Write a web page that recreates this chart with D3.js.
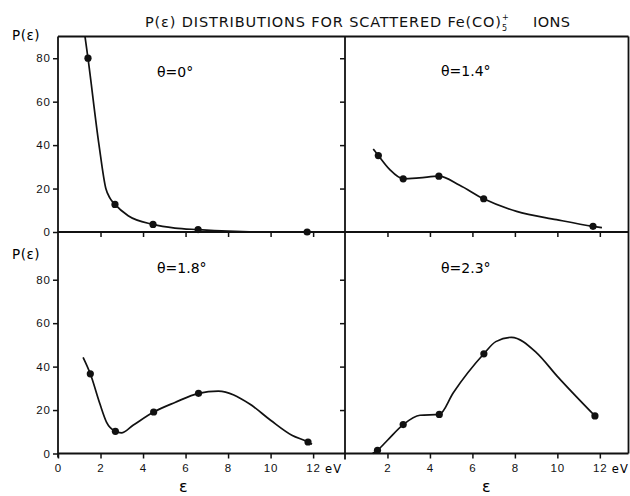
<!DOCTYPE html>
<html>
<head>
<meta charset="utf-8">
<script src="https://cdn.jsdelivr.net/npm/d3@7"></script>
<style>
  body { margin: 0; background: #fff; }
  svg { font-family: "DejaVu Sans", sans-serif; }
  .tick text { font-size: 11.5px; letter-spacing: 1px; fill: #111; }
  .tick line { stroke: #111; stroke-width: 1.5; }
</style>
</head>
<body>
<div id="chart"></div>
<script>
// energy axis (eV) and P(eps) axis ticks
const energyTicks = [0, 2, 4, 6, 8, 10, 12];
const probTicks = [0, 20, 40, 60, 80];
const panelAngles = ["θ=0°", "θ=1.4°", "θ=1.8°", "θ=2.3°"];

// measured points [eps, P]
const theta0Points = [[1.41, 80], [2.68, 12.7], [4.47, 3.5], [6.59, 1.1], [11.72, 0]];
const theta14Points = [[1.57, 35.2], [2.74, 24.5], [4.42, 25.7], [6.53, 15.3], [11.68, 2.6]];
const theta18Points = [[1.52, 36.7], [2.7, 10.2], [4.5, 19.1], [6.61, 27.7], [11.76, 5.3]];
const theta23Points = [[1.53, 1.5], [2.74, 13.3], [4.44, 18.0], [6.54, 45.9], [11.77, 17.3]];

// hand drawn curves
const theta0Curve = [[1.27, 90], [1.41, 80], [1.93, 40], [2.25, 20], [2.45, 15.5], [2.68, 12.7],
  [3.3, 7.5], [4.47, 3.5], [5.5, 1.8], [6.59, 1.1], [8, 0.4], [9, 0.1]];
const theta14Curve = [[1.33, 38.2], [1.57, 35.2], [2.1, 28.8], [2.74, 24.5], [3.5, 24.9], [4.42, 25.7],
  [5.4, 21.5], [6.53, 15.3], [8.08, 9.5], [9.96, 5.7], [11.68, 2.6], [12.1, 2.0]];
const theta18Curve = [[1.18, 44.3], [1.52, 36.7], [1.97, 22.9], [2.28, 14.5], [2.7, 10.2], [2.98, 9.5],
  [3.53, 13], [4.5, 19.1], [5.5, 23.5], [6.61, 27.7], [7.54, 28.7], [9, 22.9],
  [10, 15.3], [11, 8.4], [11.76, 5.3], [11.95, 4.3]];
const theta23Curve = [[1.3, 0], [1.53, 1.5], [2.0, 6.1], [2.74, 13.3], [3.53, 17.6], [4.44, 18.0],
  [5.1, 28], [6.54, 45.9], [7.1, 51.5], [7.84, 53.5], [9.0, 46.6], [10.0, 35.5], [11.77, 17.3]];

const width = 630;
const height = 496;

const svg = d3.select("#chart").append("svg")
  .attr("width", width)
  .attr("height", height);

const frameLeft = 58, frameMid = 345, frameRight = 628.5, frameTop = 36.5;
const zeroTop = 232, zeroBottom = 453.5;

const xLeft = d3.scaleLinear().domain([0, 13.5]).range([frameLeft, frameMid]);
const xRight = d3.scaleLinear().domain([0, 13.35]).range([frameMid, frameRight]);
const yTop = d3.scaleLinear().domain([0, 90]).range([zeroTop, frameTop]);
const yBottom = d3.scaleLinear().domain([0, 90]).range([zeroBottom, zeroBottom - (zeroTop - frameTop)]);

const panels = [
  { label: panelAngles[0], points: theta0Points, curve: theta0Curve, x: xLeft, y: yTop, lx: 157, ly: 77, isLeft: true, isBottom: false },
  { label: panelAngles[1], points: theta14Points, curve: theta14Curve, x: xRight, y: yTop, lx: 441, ly: 76, isLeft: false, isBottom: false },
  { label: panelAngles[2], points: theta18Points, curve: theta18Curve, x: xLeft, y: yBottom, lx: 157, ly: 273, isLeft: true, isBottom: true },
  { label: panelAngles[3], points: theta23Points, curve: theta23Curve, x: xRight, y: yBottom, lx: 441, ly: 273, isLeft: false, isBottom: true },
];

// frame
const frame = svg.append("g").style("stroke", "#111").style("stroke-width", 1.8);
frame.append("line").attr("x1", frameLeft).attr("x2", frameRight).attr("y1", frameTop).attr("y2", frameTop);
frame.append("line").attr("x1", frameLeft).attr("x2", frameLeft).attr("y1", frameTop).attr("y2", zeroBottom + 4);
frame.append("line").attr("x1", frameMid).attr("x2", frameMid).attr("y1", frameTop).attr("y2", zeroBottom + 6);
frame.append("line").attr("x1", frameRight).attr("x2", frameRight).attr("y1", frameTop).attr("y2", zeroBottom);

panels.forEach((p) => drawPanel(p));

function drawPanel(p) {
  const zero = p.y(0);

  const xAxis = d3.axisBottom(p.x)
    .tickValues(p.isLeft ? energyTicks.filter((d) => p.isBottom || d > 0) : energyTicks.filter((d) => d > 0))
    .tickSize(5)
    .tickPadding(5)
    .tickFormat(p.isBottom ? d3.format("d") : "");

  const gx = svg.append("g")
    .attr("transform", "translate(0," + zero + ")")
    .call(xAxis);
  gx.select(".domain")
    .attr("d", "M" + p.x.range()[0] + ",0H" + p.x.range()[1])
    .style("stroke", "#111")
    .style("stroke-width", 1.8);

  if (p.isBottom) {
    svg.append("text")
      .attr("x", p.x(12) + 12)
      .attr("y", zero + 19)
      .style("font-size", "11.5px")
      .style("letter-spacing", "1px")
      .text("eV");

    svg.append("text")
      .attr("x", p.x(p.isLeft ? 5.9 : 6.65))
      .attr("y", 492)
      .attr("text-anchor", "middle")
      .style("font-size", "16px")
      .text("ε");
  }

  const yAxis = d3.axisLeft(p.y)
    .tickValues(p.isLeft ? probTicks : probTicks.filter((d) => d > 0))
    .tickSize(5)
    .tickPadding(2)
    .tickFormat(p.isLeft ? d3.format("d") : "");

  const gy = svg.append("g")
    .attr("transform", "translate(" + p.x.range()[0] + ",0)")
    .call(yAxis);
  gy.select(".domain").remove();

  if (p.isLeft) {
    svg.append("text")
      .attr("x", 12)
      .attr("y", p.isBottom ? 259 : 40)
      .style("font-size", "13.5px")
      .style("letter-spacing", "0.5px")
      .text("P(ε)");
  }

  svg.append("text")
    .attr("x", p.lx)
    .attr("y", p.ly)
    .style("font-size", "14px")
    .text(p.label);

  const line = d3.line()
    .x((d) => p.x(d[0]))
    .y((d) => p.y(d[1]))
    .curve(d3.curveMonotoneX);

  svg.append("path")
    .attr("d", line(p.curve))
    .style("fill", "none")
    .style("stroke", "#111")
    .style("stroke-width", 1.7);

  svg.selectAll(null)
    .data(p.points)
    .enter()
    .append("circle")
    .attr("r", 3.6)
    .attr("cx", (d) => p.x(d[0]))
    .attr("cy", (d) => p.y(d[1]))
    .style("fill", "#111");
}

// title
const title = svg.append("g").style("fill", "#111");
title.append("text")
  .attr("x", 145)
  .attr("y", 27)
  .attr("textLength", 356)
  .attr("lengthAdjust", "spacing")
  .style("font-size", "14.5px")
  .text("P(ε) DISTRIBUTIONS FOR SCATTERED Fe(CO)");
title.append("text").attr("x", 502).attr("y", 31).style("font-size", "8px").text("5");
title.append("text").attr("x", 502).attr("y", 20).style("font-size", "8px").text("+");
title.append("text")
  .attr("x", 533)
  .attr("y", 27)
  .attr("textLength", 37)
  .attr("lengthAdjust", "spacing")
  .style("font-size", "14.5px")
  .text("IONS");
</script>
</body>
</html>
